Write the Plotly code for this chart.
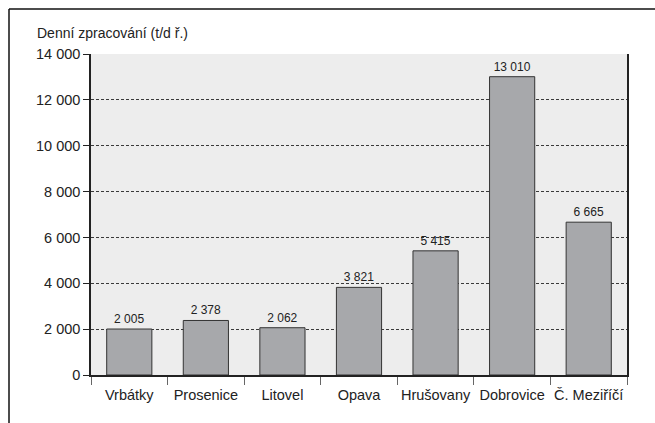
import plotly.graph_objects as go

categories = ["Vrbátky", "Prosenice", "Litovel", "Opava", "Hrušovany", "Dobrovice", "Č. Meziříčí"]
values = [2005, 2378, 2062, 3821, 5415, 13010, 6665]
y_ticks = [0, 2000, 4000, 6000, 8000, 10000, 12000, 14000]
y_title = "Denní zpracování (t/d ř.)"

FONT = "Liberation Sans, Arial, sans-serif"

W, H = 655, 423
L, R, T, B = 91, 28, 54, 48
pw, ph = W - L - R, H - T - B

def px_x(x):
    return (x - L) / pw

def px_y(y):
    return (H - B - y) / ph

fig = go.Figure(go.Bar(
    x=categories, y=values,
    marker=dict(color="#a7a8ab", line=dict(color="#333333", width=1)),
    width=0.59,
    text=values,
    texttemplate="%{y:,d}",
    textposition="outside",
    textfont=dict(family=FONT, size=12, color="#222222"),
    cliponaxis=False,
))

fig.update_layout(
    width=W, height=H,
    margin=dict(l=L, r=R, t=T, b=B, autoexpand=False),
    paper_bgcolor="white",
    plot_bgcolor="#ededed",
    separators=", ",
    font=dict(family=FONT, size=14, color="#222222"),
    showlegend=False,
    bargap=0.41,
    xaxis=dict(
        showline=True, linecolor="#222222", linewidth=1.5,
        ticks="outside", tickson="boundaries", ticklen=8, tickcolor="#666666",
        showgrid=False, tickfont=dict(size=14.5), tickangle=0, automargin=False,
        ticklabelstandoff=6,
    ),
    yaxis=dict(
        range=[0, 14000], tickvals=y_ticks, tickformat=",d",
        showline=True, linecolor="#222222", linewidth=1.5, mirror=True,
        ticks="outside", ticklen=6, tickcolor="#222222",
        showgrid=True, gridcolor="#3a3a3a", griddash="3px,2px", gridwidth=1,
        zeroline=False, tickfont=dict(size=14.5), automargin=False,
    ),
    annotations=[dict(
        text=y_title, xref="paper", yref="paper",
        x=px_x(35), y=px_y(33), xanchor="left", yanchor="middle",
        showarrow=False, font=dict(family=FONT, size=14, color="#222222"),
    )],
    shapes=[
        dict(type="line", xref="paper", yref="paper",
             x0=px_x(9), x1=px_x(9), y0=px_y(9), y1=px_y(H),
             line=dict(color="#111111", width=1.5)),
        dict(type="line", xref="paper", yref="paper",
             x0=px_x(9), x1=px_x(W), y0=px_y(9), y1=px_y(9),
             line=dict(color="#111111", width=1.5)),
    ],
)

fig.write_html(
    "out.html",
    config={"displayModeBar": False},
    post_script="document.body.style.margin='0';document.body.style.padding='0';",
)
